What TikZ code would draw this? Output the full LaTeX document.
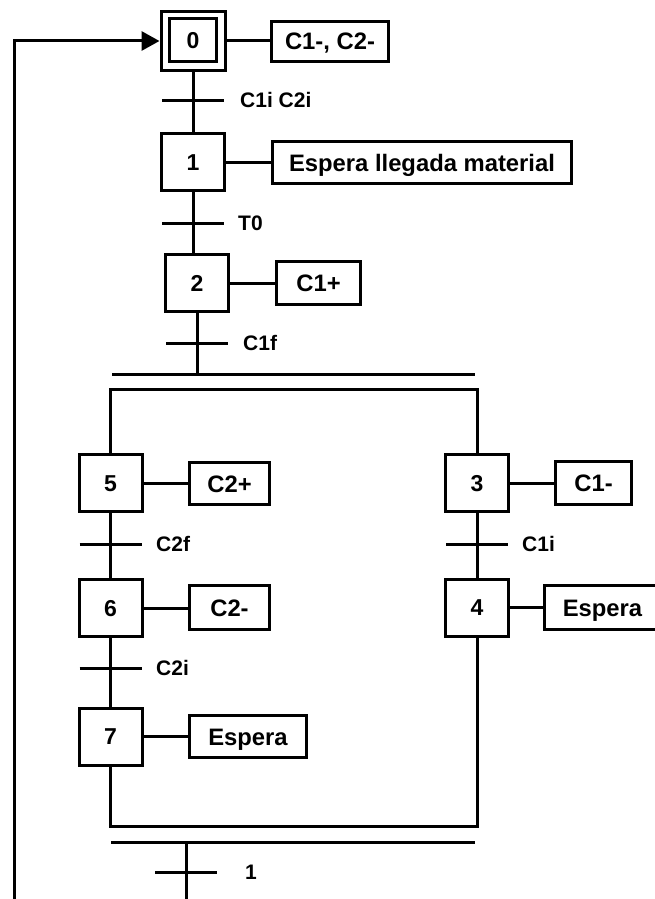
\documentclass[tikz,border=0pt]{standalone}
\usepackage{fontspec}
\setmainfont{Liberation Sans}
\usetikzlibrary{arrows.meta}
\tikzset{
  ln/.style={line width=3pt},
  stepbox/.style={draw, line width=3pt, minimum width=63pt, minimum height=57pt, inner sep=0pt,
    text height=16.5pt, text depth=0pt, font=\fontsize{23}{25}\selectfont\bfseries},
  innerbox/.style={draw, line width=3pt, minimum width=47pt, minimum height=43pt, inner sep=0pt,
    text height=16.5pt, text depth=0pt, font=\fontsize{23}{25}\selectfont\bfseries},
  actbox/.style={draw, line width=3pt, inner sep=0pt, minimum height=42pt,
    text height=17pt, text depth=0pt, font=\fontsize{23.8}{26}\selectfont\bfseries},
  lbl/.style={anchor=west, inner sep=0pt, text height=15pt, text depth=0pt,
    font=\fontsize{21}{23}\selectfont\bfseries},
}
\begin{document}
\begin{tikzpicture}[x=1pt,y=-1pt]
\useasboundingbox (0,0) rectangle (655,899);
\clip (0,0) rectangle (655,899);

% steps
\node[stepbox, minimum width=64pt, minimum height=59pt] (s0) at (193,41) {};
\node[innerbox] (s0i) at (193,40) {0};
\node[stepbox] (s1) at (193,162) {1};
\node[stepbox] (s2) at (197,283) {2};
\node[stepbox] (s5) at (110.5,483) {5};
\node[stepbox] (s6) at (110.5,608) {6};
\node[stepbox] (s7) at (110.5,736.5) {7};
\node[stepbox] (s3) at (477,483) {3};
\node[stepbox] (s4) at (477,607.5) {4};

% actions
\node[actbox, minimum width=117pt, minimum height=40pt] (a0) at (330,41.5) {C1-, C2-};
\node[actbox, minimum width=299pt] (a1) at (422,162.5) {Espera llegada material};
\node[actbox, minimum width=84pt, minimum height=43pt] (a2) at (318.5,283) {C1+};
\node[actbox, minimum width=80pt] (a5) at (229.5,483.5) {C2+};
\node[actbox, minimum width=80pt, minimum height=44pt] (a6) at (229.5,607.5) {C2-};
\node[actbox, minimum width=117pt] (a7) at (248,736.5) {Espera};
\node[actbox, minimum width=76pt, minimum height=43pt] (a3) at (593.5,483) {C1-};
\node[actbox, minimum width=116pt, minimum height=44pt] (a4) at (602.5,607.5) {Espera};

\draw[ln] (s0.east) -- (s0.east -| a0.west);
\draw[ln] (s1.east) -- (s1.east -| a1.west);
\draw[ln] (s2.east) -- (s2.east -| a2.west);
\draw[ln] (s5.east) -- (s5.east -| a5.west);
\draw[ln] (s6.east) -- (s6.east -| a6.west);
\draw[ln] (s7.east) -- (s7.east -| a7.west);
\draw[ln] (s3.east) -- (s3.east -| a3.west);
\draw[ln] (s4.east) -- (s4.east -| a4.west);

% transition points
\coordinate (t01) at (193,100);
\coordinate (t12) at (193,223);
\coordinate (t2) at (197,343);
\coordinate (t56) at (110.5,544);
\coordinate (t67) at (110.5,668);
\coordinate (t34) at (477,544);
\coordinate (tf) at (186,872);

% vertical links
\draw[ln] (s0.south) -- (s1.north);
\draw[ln] (s1.south) -- (s1.south |- s2.north);
\draw[ln] (s5.south) -- (s6.north);
\draw[ln] (s6.south) -- (s7.north);
\draw[ln] (s3.south) -- (s4.north);

% divergence
\coordinate (d1) at (112,374);
\coordinate (d2) at (475,374);
\coordinate (e1) at (111,389);
\draw[ln] (s2.south) -- (s2.south |- d1);
\draw[ln] (d1) -- (d2);
\draw[ln] (s5.north) -- (s5.north |- e1) -- (s3.north |- e1) -- (s3.north);

% convergence
\coordinate (c1) at (110,826);
\coordinate (c2a) at (111,842);
\coordinate (c2b) at (475,842);
\coordinate (cm) at (186,842);
\coordinate (bot) at (186,905);
\coordinate (lb) at (14,905);
\draw[ln] (s7.south) -- (s7.south |- c1) -- (s4.south |- c1) -- (s4.south);
\draw[ln] (c2a) -- (c2b);
\draw[ln] (cm) -- (bot);
\draw[ln, -{Triangle[length=18pt,width=19pt]}] (lb) |- (s0.west);

% transition bars
\foreach \t in {t01,t12,t2,t56,t67,t34,tf}
  \draw[ln] ([xshift=-31pt]\t) -- ([xshift=31pt]\t);

% labels
\node[lbl] (l01) at (240,100) {C1i C2i};
\node[lbl] (l12) at (238,223) {T0};
\node[lbl] (l2) at (243,343) {C1f};
\node[lbl] (l56) at (156,544) {C2f};
\node[lbl] (l67) at (156,668) {C2i};
\node[lbl] (l34) at (522,544) {C1i};
\node[lbl] (lf) at (245,872) {1};
\end{tikzpicture}
\end{document}
